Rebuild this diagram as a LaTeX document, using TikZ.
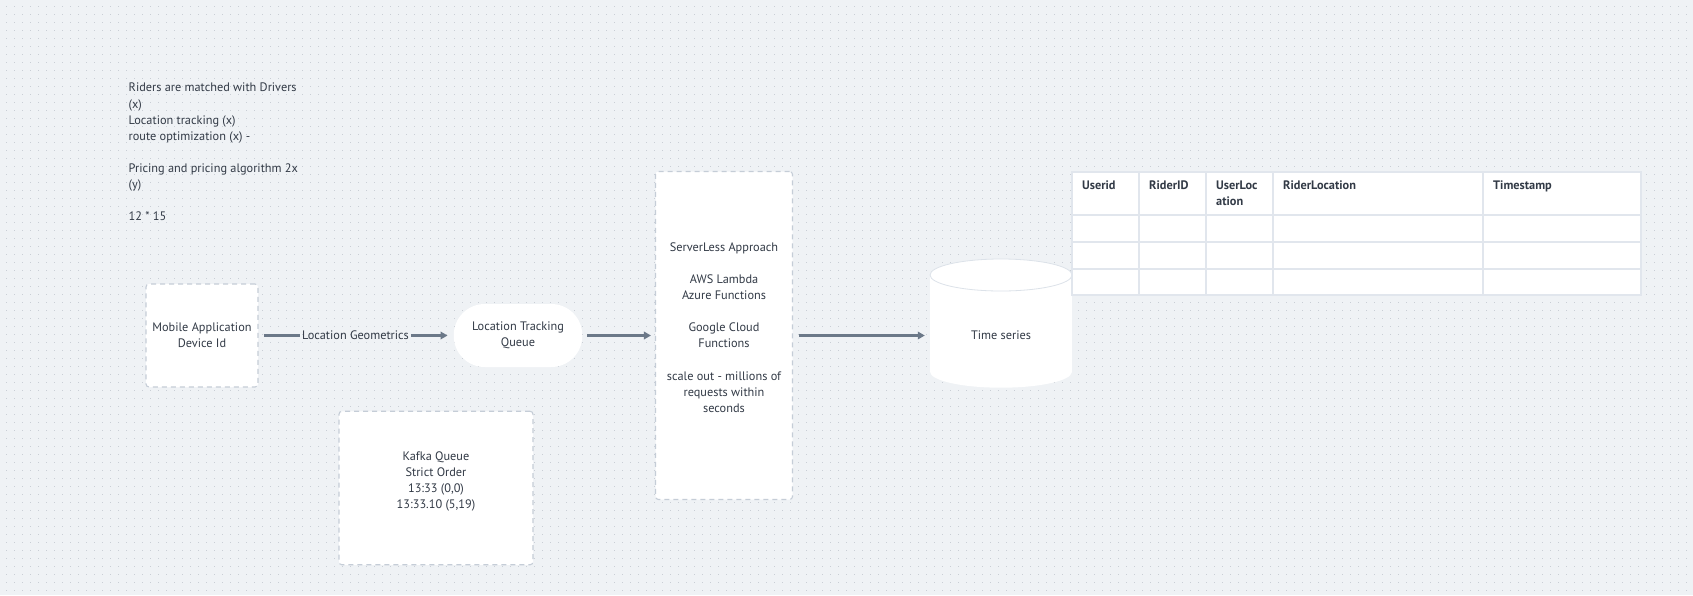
\documentclass[tikz,border=0pt]{standalone}
\usepackage{fontspec}
\setmainfont{PT Sans}
\usetikzlibrary{arrows.meta}
\definecolor{bg}{HTML}{EFF2F5}
\definecolor{dotc}{HTML}{C9CED5}
\definecolor{txt}{HTML}{323A46}
\definecolor{edgec}{HTML}{6B7888}
\definecolor{dashc}{HTML}{C5CDD7}
\definecolor{tblc}{HTML}{E1E6ED}
\definecolor{cylc}{HTML}{DCE2E9}
\begin{document}
\begin{tikzpicture}[x=1pt,y=-1pt,
  font=\fontsize{12.3}{16.1}\selectfont, text=txt,
  dbox/.style={draw=dashc, line width=1.1pt, dash pattern=on 5pt off 4pt,
    fill=white, rounded corners=3pt, align=center, inner sep=0pt},
  conn/.style={draw=edgec, line width=2.5pt, -{Triangle[length=7pt,width=7.5pt]}},
  plainline/.style={draw=edgec, line width=2.5pt},
  thead/.style={anchor=north west, font=\fontsize{12.3}{16.1}\selectfont\bfseries,
    align=left, inner sep=0pt}]
% background
\fill[bg] (0,0) rectangle (1693,595);
\useasboundingbox (0,0) rectangle (1693,595);
\foreach \r in {0,...,73}
  \draw[dotc, line width=1.3pt, dash pattern=on 1.3pt off 6.7pt]
    (6,{6.5+8*\r}) -- (1693,{6.5+8*\r});

% notes
\node[anchor=north west, align=left, inner sep=0pt] (notes) at (128.5,83)
  {Riders are matched with Drivers\\(x)\\Location tracking (x)\\route optimization (x) -\\[16.1pt]Pricing and pricing algorithm 2x\\(y)\\[16.1pt]12 * 15};

% nodes
\node[dbox, minimum width=112pt, minimum height=103pt] (mob) at (202,335.5)
  {Mobile Application\\Device Id};
\node[inner xsep=1.8pt, inner ysep=1pt] (geo) at (355.5,335.5) {Location Geometrics};
\node[fill=white, rounded corners=31pt, minimum width=128.5pt, minimum height=63pt,
  align=center, inner sep=0pt] (queue) at (518,335.5) {Location Tracking\\Queue};
\node[dbox, minimum width=137pt, minimum height=328pt] (sl) at (724,335.5)
  {ServerLess Approach\\[16.1pt]AWS Lambda\\Azure Functions\\[16.1pt]Google Cloud\\Functions\\[16.1pt]scale out - millions of\\requests within\\seconds\\ \mbox{}};
\node[dbox, minimum width=194pt, minimum height=153.5pt] (kafka) at (436,488)
  {Kafka Queue\\Strict Order\\13:33 (0,0)\\13:33.10 (5,19)\\ \mbox{}};

% cylinder
\fill[white] (1001,371.7) ellipse [x radius=71, y radius=16];
\fill[white] (930,275) rectangle (1072,371.7);
\fill[white] (1001,275) ellipse [x radius=71, y radius=16];
\draw[cylc, line width=0.8pt] (1001,275) ellipse [x radius=71, y radius=16];
\node[minimum width=142pt, minimum height=96pt, inner sep=0pt] (ts) at (1001,335.5) {Time series};

% connectors
\draw[plainline, shorten <=5pt] (mob.east) -- (geo.west);
\draw[conn, shorten >=6pt] (geo.east) -- (queue.west);
\draw[conn, shorten <=5pt, shorten >=4pt] (queue.east) -- (sl.west);
\draw[conn, shorten <=5.5pt, shorten >=5pt] (sl.east) -- (ts.west);

% table
\fill[white] (1072,172) rectangle (1641,295);
\draw[tblc, line width=2pt] (1072,172) rectangle (1641,295);
\foreach \cx in {1139,1206,1273,1483}
  \draw[tblc, line width=2pt] (\cx,172) -- (\cx,295);
\foreach \cy in {215,242,269}
  \draw[tblc, line width=2pt] (1072,\cy) -- (1641,\cy);
\node[thead] (h1) at (1082,181) {Userid};
\node[thead] (h2) at (1149,181) {RiderID};
\node[thead] (h3) at (1216,181) {UserLoc\\ation};
\node[thead] (h4) at (1283,181) {RiderLocation};
\node[thead] (h5) at (1493,181) {Timestamp};
\end{tikzpicture}
\end{document}
